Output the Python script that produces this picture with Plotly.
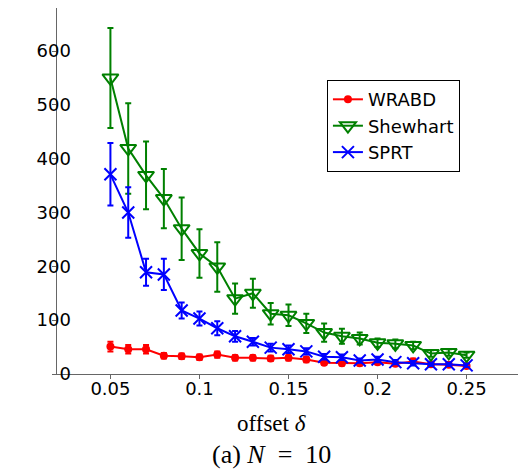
import plotly.graph_objects as go

offset = [0.05, 0.06, 0.07, 0.08, 0.09, 0.10, 0.11, 0.12, 0.13, 0.14, 0.15,
          0.16, 0.17, 0.18, 0.19, 0.20, 0.21, 0.22, 0.23, 0.24, 0.25]

wrabd = [51, 46, 46, 34, 33, 31, 36, 30, 30, 29, 30, 27, 21, 20, 20, 22, 19, 23, 18, 17, 15]
wrabd_err = [9, 8, 8, 5, 5, 5, 6, 5, 5, 5, 5, 5, 4, 4, 4, 4, 4, 6, 3, 3, 3]

shewhart = [550, 419, 369, 326, 270, 224, 199, 140, 150, 112, 109, 94, 77, 70, 66, 58, 56, 53, 38, 40, 35]
shewhart_err = [93, 84, 63, 55, 58, 45, 46, 28, 27, 20, 20, 18, 17, 14, 11, 8, 8, 7, 6, 6, 5]

sprt = [371, 300, 189, 185, 118, 103, 85, 70, 60, 49, 46, 42, 32, 31, 25, 27, 22, 20, 18, 18, 16]
sprt_err = [58, 47, 25, 29, 15, 13, 13, 10, 7, 7, 7, 6, 5, 5, 4, 5, 4, 4, 3, 3, 3]

x_ticks = [0.05, 0.1, 0.15, 0.2, 0.25]
x_tick_text = ["0.05", "0.1", "0.15", "0.2", "0.25"]
y_ticks = [0, 100, 200, 300, 400, 500, 600]
y_range = [0, 680]

fig = go.Figure()

fig.add_trace(go.Scatter(
    x=offset, y=wrabd, name="WRABD", mode="lines+markers", yaxis="y",
    line=dict(color="#ff0000", width=2),
    marker=dict(symbol="circle", size=8, color="#ff0000"),
    error_y=dict(type="data", array=wrabd_err, color="#ff0000", thickness=2, width=3),
))
fig.add_trace(go.Scatter(
    x=offset, y=shewhart, name="Shewhart", mode="lines+markers", yaxis="y2",
    line=dict(color="#008000", width=2),
    marker=dict(symbol="triangle-down-open", size=14, color="#008000", line=dict(width=2)),
    error_y=dict(type="data", array=shewhart_err, color="#008000", thickness=2, width=3),
))
fig.add_trace(go.Scatter(
    x=offset, y=sprt, name="SPRT", mode="lines+markers", yaxis="y2",
    line=dict(color="#0000ff", width=2),
    marker=dict(symbol="x-thin-open", size=12, color="#0000ff", line=dict(width=2, color="#0000ff")),
    error_y=dict(type="data", array=sprt_err, color="#0000ff", thickness=2, width=3),
))

sans = "DejaVu Sans, Verdana, sans-serif"
serif = "Liberation Serif, Times New Roman, serif"
axis_font = dict(family=sans, size=18, color="black")

fig.update_layout(
    width=526, height=470,
    margin=dict(l=49, r=14, t=0, b=104),
    paper_bgcolor="white", plot_bgcolor="white",
    showlegend=True,
    legend=dict(
        x=0.583, y=0.803, xanchor="left", yanchor="top",
        bgcolor="white", bordercolor="black", borderwidth=1,
        font=dict(family=sans, size=18, color="black"),
        itemwidth=30, tracegroupgap=0,
    ),
    xaxis=dict(
        range=[0.02, 0.28], tickvals=x_ticks, ticktext=x_tick_text,
        showgrid=False, zeroline=False, showline=True, linecolor="#666666", linewidth=1,
        ticks="outside", ticklen=4, tickcolor="#666666", tickfont=axis_font,
        ticklabelstandoff=-6,
    ),
    yaxis=dict(
        range=y_range, tickvals=y_ticks,
        showgrid=False, zeroline=False, showline=True, linecolor="#666666", linewidth=1,
        ticks="outside", ticklen=4, tickcolor="#666666",
        showticklabels=False,
    ),
    yaxis2=dict(
        range=y_range, tickvals=y_ticks, overlaying="y", anchor="free", position=0.03,
        side="left",
        showgrid=False, zeroline=False, showline=False,
        ticks="", ticklen=0, tickfont=axis_font, showticklabels=True,
    ),
    annotations=[
        dict(text="offset <i>δ</i>", xref="paper", yref="paper", x=0.464, y=-0.134,
             xanchor="center", yanchor="middle", showarrow=False,
             font=dict(family=serif, size=23, color="black")),
        dict(text="(a) <i>N</i>\u2002=\u200210", xref="paper", yref="paper", x=0.464, y=-0.219,
             xanchor="center", yanchor="middle", showarrow=False,
             font=dict(family=serif, size=26, color="black")),
    ],
)

fig.write_html("out.html")
